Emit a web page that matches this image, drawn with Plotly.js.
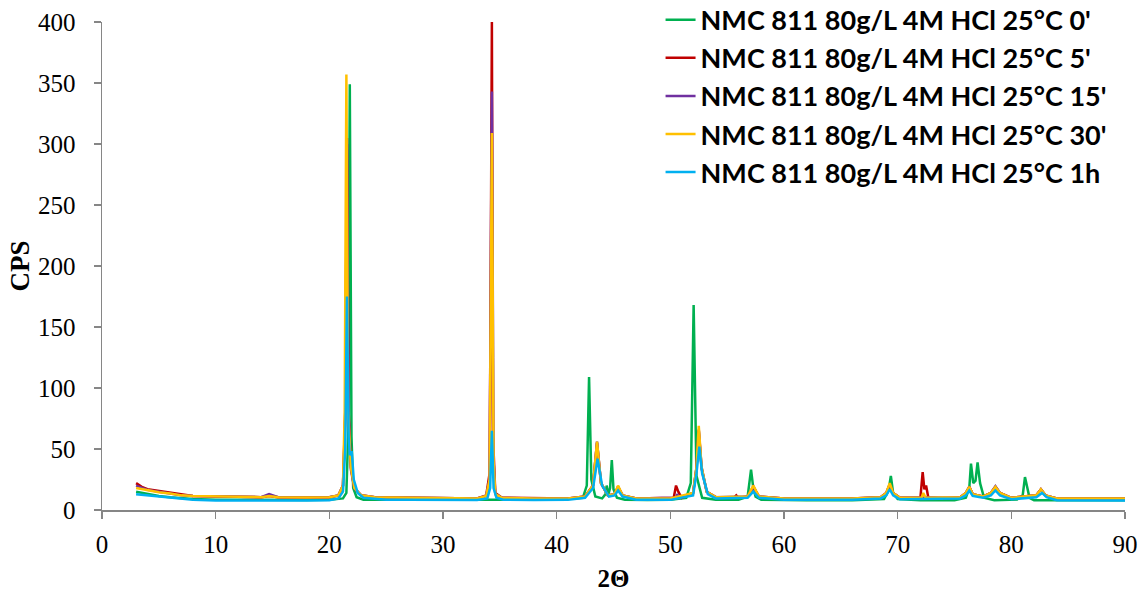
<!DOCTYPE html>
<html>
<head>
<meta charset="utf-8">
<script src="https://cdn.plot.ly/plotly-3.0.1.min.js"></script>
<style>html,body{margin:0;padding:0;background:#fff;}#chart{width:1148px;height:592px;}</style>
</head>
<body>
<div id="chart"></div>
<script>
// Series names
const seriesNames = [
  "NMC 811 80g/L 4M HCl 25°C 0'",
  "NMC 811 80g/L 4M HCl 25°C 5'",
  "NMC 811 80g/L 4M HCl 25°C 15'",
  "NMC 811 80g/L 4M HCl 25°C 30'",
  "NMC 811 80g/L 4M HCl 25°C 1h"
];
const seriesColors = ["#00B050", "#C00000", "#7030A0", "#FFC000", "#00B0F0"];

// 0' (green)
const x0 = [3,4,5,6,7,8,10,12,15,18,20,21.2,21.5,21.65,21.8,21.95,22.1,22.4,23,25,27,30,33,36,40,42.3,42.65,42.85,43.05,43.4,44.0,44.3,44.4,44.55,44.7,44.85,45.0,45.3,46,48,50,51.4,51.8,52.05,52.3,52.8,54,56,56.8,57.1,57.3,57.5,58,62,66,68.8,69.2,69.4,69.6,70,72,75,76.0,76.3,76.45,76.65,76.85,77.03,77.25,77.6,78.5,80.5,81.0,81.2,81.4,81.6,82,85,88,90];
const y0 = [15,13,11.5,10.5,9.5,9,8.5,8.3,8.2,8.2,8.5,9.5,14,60,349,60,18,10.5,8.5,8.3,8.5,8.3,8.3,8.3,8.5,10,20,109,25,11,9.5,13,20,13,18,41,17,10,8.5,8.2,8.3,10,22,168,28,10,8.5,8.3,11,33,18,11,8.5,8,8,9,16,28,14,9,8,8,10,18,38,22,24,39,22,10,8,8.5,12,27,18,10,8,8,8,8];

// 5' (red)
const x5 = [3,3.5,4,5,6,7,8,10,12,14,14.7,15.5,18,20,20.8,21.2,21.4,21.55,21.7,21.9,22.2,22.8,24,27,30,33,33.8,34.1,34.2,34.3,34.4,34.6,35.2,38,41,42.5,43.2,43.55,43.9,44.5,45.1,45.4,45.8,47,50.3,50.5,50.7,51,52,52.3,52.5,52.75,53.2,54,55.6,55.8,56,56.8,57.3,57.8,60,66,68.5,69.0,69.3,69.6,70.2,72.0,72.2,72.35,72.5,72.7,74,75.5,76.0,76.3,76.6,77.5,78.2,78.6,79.0,80,82.2,82.6,83.0,84,87,90];
const y5 = [22,19,17,15.5,14,12.5,11.5,11,10.8,10.5,11.5,10.5,10.2,10.5,12,20,80,305,80,35,18,12,10.5,10,9.5,9.5,12,30,190,400,60,14,10,9.5,9.5,11,20,55,22,12,13,19,12,9.5,10,20,15,10,14,35,66,35,15,10.5,10,12,10,11,19,11,9.5,9.5,10.5,14,21,14,10,10,31,17,20,10,9.5,10.5,14,19,13,11,14,19,14,10,12,17,12,9.5,9.5,9.5];

// 15' (purple)
const x15 = [3,3.5,4,5,6,7,8,10,12,14,14.7,15.5,18,20,20.8,21.2,21.4,21.55,21.7,21.9,22.2,22.8,24,27,30,33,33.8,34.1,34.3,34.45,34.6,35.2,38,41,42.5,43.2,43.55,43.9,44.5,45.1,45.4,45.8,47,50.5,50.6,50.8,52,52.3,52.5,52.75,53.2,54,56.8,57.3,57.8,60,66,68.5,69.0,69.3,69.6,70.2,75.5,76.0,76.3,76.6,77.5,78.2,78.6,79.0,80,82.2,82.6,83.0,84,87,90];
const y15 = [20,18,16.5,15,13.5,12,11.5,11,10.8,10.5,13,10.5,10.2,10.5,12,20,75,300,75,33,18,12,10.5,10,9.5,9.5,11.5,25,343,40,13,10,9.5,9.5,11,20,56,22,12,13,19,12,9.5,10,13,10,14,34,65,34,15,10.5,11,19,11,9.5,9.5,10.5,14,21,14,10,10.5,14,19,13,11,14,19.5,14,10,12,17,12,9.5,9.5,9.5];

// 30' (yellow)
const x30 = [3,3.5,4,5,6,7,8,10,12,14,14.7,15.5,18,20,20.8,21.2,21.35,21.5,21.65,21.9,22.2,22.8,24,27,30,33,33.8,34.1,34.3,34.45,34.6,35.2,38,41,42.5,43.2,43.55,43.9,44.5,45.1,45.4,45.8,47,50,52,52.3,52.5,52.75,53.2,54,56.8,57.3,57.8,60,66,68.5,69.0,69.3,69.6,70.2,72.1,72.25,72.45,75.5,76.0,76.3,76.6,77.5,78.2,78.6,79.0,80,82.2,82.6,83.0,84,87,90];
const y30 = [18,17,16,14.5,13.5,12,11.5,11,10.8,10.5,11.5,10.5,10.2,10.5,12,20,80,357,80,35,18,12,10.5,10,9.5,9.5,11.5,25,309,40,13,10,9.5,9.5,11,20,56,22,12,13,20,12,9.5,9.5,14,35,69,35,15,10.5,11,20,11,9.5,9.5,10.5,14,22,14,10,10,14,10,10.5,14,19,13,11,14,19,14,10,12,17,12,9.5,9.5,9.5];

// 1h (blue)
const x1h = [3,3.5,4,5,6,7,8,10,12,14,15,18,20,20.8,21.2,21.4,21.55,21.7,21.8,21.97,22.15,22.5,23,25,27,30,33,33.9,34.15,34.3,34.45,34.7,35.3,38,41,42.5,43.2,43.6,44.0,44.6,45.1,45.4,45.8,47,50,52,52.3,52.55,52.8,53.3,54,56.8,57.3,57.8,60,66,68.5,69.0,69.3,69.6,70.2,75.5,76.0,76.3,76.6,77.5,78.2,78.6,79.0,80,82.2,82.7,83.1,84,87,90];
const y1h = [13,12.5,12,11,10,9,8.5,7.8,7.7,7.6,7.6,7.7,8,9.5,15,50,175,60,45,48,25,14,10,8.5,8.3,8.2,8.2,9.5,18,65,18,10,8.5,8.2,8.3,10,18,42,20,11,12,16,11,8.5,8.3,12,30,52,30,13,9.5,10,15,10,8.3,8.3,9.5,12,17,12,8.8,9.5,12,16,11.5,10,12,16,12,8.8,10.5,14,10.5,8,7.8,7.8];

const xVals = [x0, x5, x15, x30, x1h];
const yVals = [y0, y5, y15, y30, y1h];

const xTickVals = [0,10,20,30,40,50,60,70,80,90];
const yTickVals = [0,50,100,150,200,250,300,350,400];

const traces = seriesNames.map((name, i) => ({
  type: 'scatter',
  mode: 'lines',
  name: name,
  x: xVals[i],
  y: yVals[i],
  line: {color: seriesColors[i], width: 2.5},
  hoverinfo: 'x+y'
}));

const axisColor = '#868686';
const serif = '"Liberation Serif", "Times New Roman", serif';
const layout = {
  width: 1148,
  height: 592,
  paper_bgcolor: '#ffffff',
  plot_bgcolor: '#ffffff',
  margin: {l: 102, r: 23, t: 22, b: 82, autoexpand: false},
  showlegend: true,
  legend: {
    x: 0.546, y: 1.054, xanchor: 'left', yanchor: 'top',
    bgcolor: 'rgba(0,0,0,0)',
    font: {family: 'Lato, "Open Sans", sans-serif', size: 27, color: '#000000', weight: 'bold'},
    tracegroupgap: 0
  },
  xaxis: {
    range: [0, 90],
    tickvals: xTickVals,
    ticktext: xTickVals.map(String),
    showgrid: false, zeroline: false,
    showline: true, linecolor: axisColor, linewidth: 1.5,
    ticks: 'outside', ticklen: 7, tickcolor: axisColor, tickwidth: 1.5,
    ticklabelstandoff: 4,
    tickfont: {family: serif, size: 25, color: '#000000'},
    title: {text: '<b>2Θ</b>', font: {family: serif, size: 25, color: '#000000'}, standoff: 14}
  },
  yaxis: {
    range: [0, 400],
    tickvals: yTickVals,
    ticktext: yTickVals.map(String),
    showgrid: false, zeroline: false,
    showline: true, linecolor: axisColor, linewidth: 1.5,
    ticks: 'outside', ticklen: 7, tickcolor: axisColor, tickwidth: 1.5,
    ticklabelstandoff: 13,
    tickfont: {family: serif, size: 25, color: '#000000'},
    title: {text: '<b>CPS</b>', font: {family: serif, size: 27, color: '#000000'}, standoff: 0}
  }
};

Plotly.newPlot('chart', traces, layout, {displayModeBar: false, staticPlot: true});
</script>
</body>
</html>
